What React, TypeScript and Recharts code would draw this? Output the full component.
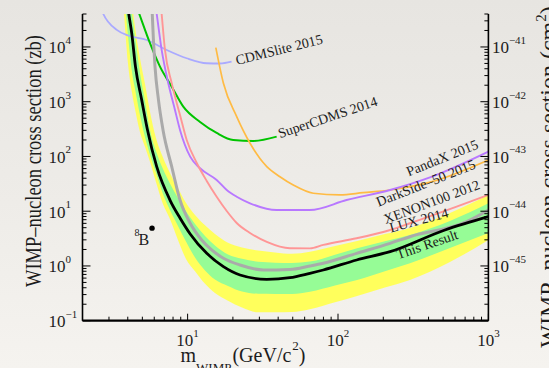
import React from 'react';
import { ComposedChart, Area, Line, Scatter, XAxis, YAxis } from 'recharts';

const SERIF = '"Liberation Serif", "Times New Roman", Times, serif';
const INK = '#1c1c1c';

// Axis ranges: WIMP mass in GeV/c^2, cross section in zb (1 zb = 1e-45 cm^2)
const massDomain: [number, number] = [2, 1000];
const sigmaDomain: [number, number] = [0.1, 4e4];

const massTicks = [2, 3, 4, 5, 6, 7, 8, 9, 10, 20, 30, 40, 50, 60, 70, 80, 90, 100, 200, 300, 400, 500, 600, 700, 800, 900, 1000];
const sigmaTicks = [
  0.1, 0.2, 0.3, 0.4, 0.5, 0.6, 0.7, 0.8, 0.9,
  1, 2, 3, 4, 5, 6, 7, 8, 9,
  10, 20, 30, 40, 50, 60, 70, 80, 90,
  100, 200, 300, 400, 500, 600, 700, 800, 900,
  1000, 2000, 3000, 4000, 5000, 6000, 7000, 8000, 9000,
  10000, 20000, 30000, 40000,
];
const massLabelled = [10, 100, 1000];
const sigmaLabelledLeft = [0.1, 1, 10, 100, 1000, 10000];
const sigmaLabelledRight = [1, 10, 100, 1000, 10000];

// Expected sensitivity bands (±1σ green, ±2σ yellow)
const bandMass = [3.78, 4.01, 4.27, 4.54, 4.82, 5.21, 5.62, 6.16, 6.86, 7.63, 8.63, 9.75, 11.2, 13.05, 15.2, 18.55, 23.0, 29.4, 38.1, 49.4, 65, 95.5, 134, 205, 301, 555, 1000];
const yellowLow = [4.01e4, 5.1e3, 1.44e3, 590, 279, 149, 80.3, 34.1, 13.4, 7.21, 2.99, 1.34, 0.799, 0.472, 0.321, 0.232, 0.174, 0.142, 0.142, 0.144, 0.162, 0.218, 0.283, 0.404, 0.554, 1.18, 2.98];
const yellowHigh = [7.3e5, 2.07e5, 6.0e4, 1.73e4, 6.3e3, 2.08e3, 658, 218, 95.9, 50, 26.2, 14.2, 8.51, 5.53, 3.84, 2.66, 2.18, 1.91, 1.77, 1.67, 1.82, 2.32, 2.86, 3.82, 4.94, 9.28, 19.8];
const greenLow = [9.69e4, 1.66e4, 3.45e3, 1.36e3, 573, 224, 108, 50.3, 20.7, 10.5, 5.39, 2.79, 1.42, 0.827, 0.564, 0.432, 0.34, 0.31, 0.308, 0.308, 0.339, 0.44, 0.554, 0.802, 1.12, 2.13, 4.0];
const greenHigh = [5.0e5, 1.42e5, 4.01e4, 1.13e4, 3.42e3, 1.02e3, 305, 126, 58.9, 32.1, 17.4, 9.97, 5.84, 3.53, 2.36, 1.62, 1.35, 1.19, 1.15, 1.13, 1.2, 1.61, 2.1, 2.82, 3.68, 6.63, 13.95];

// This result (90% C.L. upper limit)
const thisMass = [3.86, 4.06, 4.25, 4.5, 4.95, 5.41, 6.23, 7.63, 8.9, 10.4, 13.4, 17.3, 22.3, 33.6, 47.9, 65.0, 79.8, 133, 222, 514, 1000];
const thisSigma = [1.01e5, 4.01e4, 1.78e4, 4.37e3, 1.08e3, 305, 65.1, 16.0, 7.52, 3.84, 1.7, 0.97, 0.684, 0.571, 0.611, 0.735, 0.844, 1.285, 1.82, 4.54, 7.94];

// LUX 2014
const luxMass = [5.75, 5.82, 6.07, 6.4, 6.86, 7.84, 8.9, 10.4, 12.4, 14.45, 17.3, 22.3, 31.9, 47.9, 65, 79.8, 133, 222, 301, 717, 1000];
const luxSigma = [1.1e5, 4.01e4, 4.37e3, 1.08e3, 305, 65.1, 16.0, 6.02, 2.98, 1.96, 1.38, 1.04, 0.844, 0.862, 0.999, 1.12, 1.7, 2.59, 3.42, 6.44, 10.5];

// XENON100 2012
const xenonMass = [6.5, 6.72, 7.07, 7.84, 8.9, 9.86, 11.5, 13.4, 15.6, 18.2, 21.2, 26.0, 33.6, 47.9, 65, 79.8, 133, 222, 301, 615, 1000];
const xenonSigma = [1.1e5, 4.01e4, 8.82e3, 2.17e3, 573, 200, 76.0, 35.7, 18.4, 10.1, 6.1, 4.0, 2.74, 2.1, 2.09, 2.42, 3.2, 4.54, 6.02, 12.1, 19.8];

// PandaX 2015
const pandaxMass = [5.92, 6.23, 6.72, 7.44, 8.24, 8.9, 10.4, 12.1, 15.6, 18.2, 21.2, 26.0, 39.1, 65, 114, 222, 422, 1000];
const pandaxSigma = [1.1e5, 4.01e4, 8.82e3, 2.17e3, 707, 305, 99.1, 60.8, 37.2, 24.4, 18.4, 13.95, 10.5, 10.5, 16.0, 24.4, 42.7, 122];

// DarkSide-50 2015
const darksideMass = [15.4, 17.3, 21.2, 26.0, 33.6, 41.1, 50.4, 68.5, 103, 147, 222, 422, 1000];
const darksideSigma = [9.71e3, 2.17e3, 533, 174, 65.1, 42.7, 30.1, 21.3, 19.8, 21.8, 24.4, 34.6, 86.3];

// SuperCDMS 2014
const supercdmsMass = [4.17, 4.77, 5.62, 6.55, 7.84, 9.36, 12.1, 15.6, 20.1, 27.3, 39.1];
const supercdmsSigma = [1.1e5, 4.01e4, 1.17e4, 4.37e3, 1.88e3, 812, 427, 269, 200, 192, 230];

// CDMSlite 2015
const cdmsliteMass = [2.5, 2.75, 3.38, 4.01, 5.35, 7.26, 9.86, 13.4, 16.4, 19.6];
const cdmsliteSigma = [8.19e4, 4.01e4, 2.05e4, 1.62e4, 1.34e4, 8.82e3, 6.22e3, 5.04e3, 4.99e3, 5.39e3];

// 8B solar neutrino marker
const boronMass = [5.8];
const boronSigma = [4.9];

// Curve annotations (baseline start, rotation in degrees)
const labelText = ['CDMSlite 2015', 'SuperCDMS 2014', 'PandaX 2015', 'DarkSide\u201350 2015', 'XENON100 2012', 'LUX 2014', 'This Result'];
const labelMass = [21.3, 41.1, 296, 186, 208, 225, 252];
const labelSigma = [4.69e3, 215, 43.1, 12.1, 5.84, 4.09, 1.32];
const labelAngle = [-14, -18.5, -22, -21.5, -20.5, -15, -19];

const rows = (m: number[], s: number[]) => m.map((x, i) => ({ x, y: s[i] }));

const bandRows = bandMass.map((x, i) => ({
  x,
  yellow: [yellowLow[i], yellowHigh[i]],
  green: [greenLow[i], greenHigh[i]],
}));

const labelRows = labelText.map((text, i) => ({ x: labelMass[i], y: labelSigma[i], text, angle: labelAngle[i] }));
const boronRows = rows(boronMass, boronSigma);

const isDecade = (v: number) => Math.abs(Math.log10(v) - Math.round(Math.log10(v))) < 1e-6;
const expText = (n: number) => (n < 0 ? `\u2212${-n}` : `${n}`);

function BottomTick(props: any) {
  const { x, y, payload } = props;
  const v = payload.value as number;
  const major = isDecade(v);
  return (
    <g>
      <line x1={x} x2={x} y1={y} y2={y - (major ? 7 : 4)} stroke="#000" strokeWidth={1} />
      {massLabelled.includes(v) && (
        <text x={x} y={y + 25.5} textAnchor="middle" fontFamily={SERIF} fontSize={17} fill={INK}>
          10<tspan dy={-9} fontSize={11}>{expText(Math.round(Math.log10(v)))}</tspan>
        </text>
      )}
    </g>
  );
}

function LeftTick(props: any) {
  const { x, y, payload } = props;
  const v = payload.value as number;
  const major = isDecade(v);
  return (
    <g>
      <line x1={x} x2={x + (major ? 8 : 4)} y1={y} y2={y} stroke="#000" strokeWidth={1} />
      {sigmaLabelledLeft.includes(v) && (
        <text x={x - 34} y={y + 6.5} fontFamily={SERIF} fontSize={17} fill={INK}>
          10<tspan dy={-9.5} fontSize={11}>{expText(Math.round(Math.log10(v)))}</tspan>
        </text>
      )}
    </g>
  );
}

function RightTick(props: any) {
  const { x, y, payload } = props;
  const v = payload.value as number;
  const major = isDecade(v);
  return (
    <g>
      <line x1={x} x2={x - (major ? 8 : 4)} y1={y} y2={y} stroke="#000" strokeWidth={1} />
      {sigmaLabelledRight.includes(v) && (
        <text x={x + 3.5} y={y + 6.5} fontFamily={SERIF} fontSize={17} fill={INK}>
          10<tspan dy={-9.5} fontSize={11}>{expText(Math.round(Math.log10(v)) - 45)}</tspan>
        </text>
      )}
    </g>
  );
}

function CurveLabel(props: any) {
  const { cx, cy, payload } = props;
  return (
    <text
      x={cx}
      y={cy}
      transform={`rotate(${payload.angle} ${cx} ${cy})`}
      fontFamily={SERIF}
      fontSize={14}
      fill={INK}
    >
      {payload.text}
    </text>
  );
}

function BoronMarker(props: any) {
  const { cx, cy } = props;
  return (
    <g>
      <circle cx={cx} cy={cy} r={2.7} fill="#000" />
      <text x={cx - 17.5} y={cy + 8} fontFamily={SERIF} fontSize={10} fill={INK}>8</text>
      <text x={cx - 13.5} y={cy + 17} fontFamily={SERIF} fontSize={16} fill={INK}>B</text>
    </g>
  );
}

const lineProps = {
  dataKey: 'y',
  type: 'monotoneX' as const,
  dot: false,
  activeDot: false,
  isAnimationActive: false,
};

export default function App() {
  return (
    <div
      style={{
        position: 'absolute',
        left: 0,
        top: 0,
        width: 549,
        height: 368,
        overflow: 'hidden',
        background: 'linear-gradient(to bottom, #e7e5e1 0%, #eeece8 55%, #f5f3ef 100%)',
      }}
    >
      <ComposedChart width={549} height={368} margin={{ top: 14, right: 0, bottom: 0, left: 0 }}>
        <XAxis
          dataKey="x"
          type="number"
          scale="log"
          domain={massDomain}
          allowDataOverflow
          ticks={massTicks}
          interval={0}
          tickSize={0}
          tickMargin={0}
          tickLine={false}
          height={47.3}
          axisLine={{ stroke: '#000', strokeWidth: 2.2 }}
          tick={(p: any) => <BottomTick {...p} />}
        />
        <YAxis
          yAxisId="left"
          type="number"
          scale="log"
          domain={sigmaDomain}
          allowDataOverflow
          ticks={sigmaTicks}
          interval={0}
          tickSize={0}
          tickMargin={0}
          tickLine={false}
          width={82.5}
          axisLine={{ stroke: '#000', strokeWidth: 1.6 }}
          tick={(p: any) => <LeftTick {...p} />}
        />
        <YAxis
          yAxisId="right"
          orientation="right"
          type="number"
          scale="log"
          domain={sigmaDomain}
          allowDataOverflow
          ticks={sigmaTicks}
          interval={0}
          tickSize={0}
          tickMargin={0}
          tickLine={false}
          width={60.6}
          axisLine={{ stroke: '#000', strokeWidth: 1.6 }}
          tick={(p: any) => <RightTick {...p} />}
        />

        <Area yAxisId="left" data={bandRows} dataKey="yellow" type="monotoneX" stroke="none" fill="#ffff5c" fillOpacity={1} isAnimationActive={false} dot={false} activeDot={false} />
        <Area yAxisId="left" data={bandRows} dataKey="green" type="monotoneX" stroke="none" fill="#96fc96" fillOpacity={1} isAnimationActive={false} dot={false} activeDot={false} />

        <Line yAxisId="left" data={rows(cdmsliteMass, cdmsliteSigma)} stroke="#aaaaff" strokeWidth={1.8} {...lineProps} />
        <Line yAxisId="left" data={rows(supercdmsMass, supercdmsSigma)} stroke="#00c400" strokeWidth={2} {...lineProps} />
        <Line yAxisId="left" data={rows(darksideMass, darksideSigma)} stroke="#ffbb44" strokeWidth={1.7} {...lineProps} />
        <Line yAxisId="left" data={rows(pandaxMass, pandaxSigma)} stroke="#b878ff" strokeWidth={1.9} {...lineProps} />
        <Line yAxisId="left" data={rows(xenonMass, xenonSigma)} stroke="#ff9696" strokeWidth={1.9} {...lineProps} />
        <Line yAxisId="left" data={rows(luxMass, luxSigma)} stroke="#aaaaaa" strokeWidth={3} {...lineProps} />
        <Line yAxisId="left" data={rows(thisMass, thisSigma)} stroke="#000000" strokeWidth={2.8} {...lineProps} />

        <Scatter yAxisId="left" data={labelRows} dataKey="y" isAnimationActive={false} shape={(p: any) => <CurveLabel {...p} />} />
        <Scatter yAxisId="left" data={boronRows} dataKey="y" isAnimationActive={false} shape={(p: any) => <BoronMarker {...p} />} />
      </ComposedChart>

      <svg
        width={549}
        height={368}
        style={{ position: 'absolute', left: 0, top: 0, pointerEvents: 'none' }}
      >
        <text
          transform="translate(41 161) rotate(-90)"
          textAnchor="middle"
          fontFamily={SERIF}
          fontSize={24}
          fill={INK}
          textLength={252}
          lengthAdjust="spacingAndGlyphs"
        >
          WIMP{'\u2013'}nucleon cross section (zb)
        </text>
        <text
          transform="translate(556 177) rotate(-90)"
          textAnchor="middle"
          fontFamily={SERIF}
          fontSize={24}
          fill={INK}
        >
          WIMP{'\u2013'}nucleon cross section (cm<tspan dy={-10} fontSize={15}>2</tspan><tspan dy={10}>)</tspan>
        </text>
        <text x={243} y={362} textAnchor="middle" fontFamily={SERIF} fontSize={20} fill={INK}>
          m<tspan dy={10} fontSize={13}>WIMP</tspan>
          <tspan dy={-10} dx={1}>(GeV/c</tspan>
          <tspan dy={-12} dx={1} fontSize={13}>2</tspan>
          <tspan dy={12}>)</tspan>
        </text>
      </svg>
    </div>
  );
}
